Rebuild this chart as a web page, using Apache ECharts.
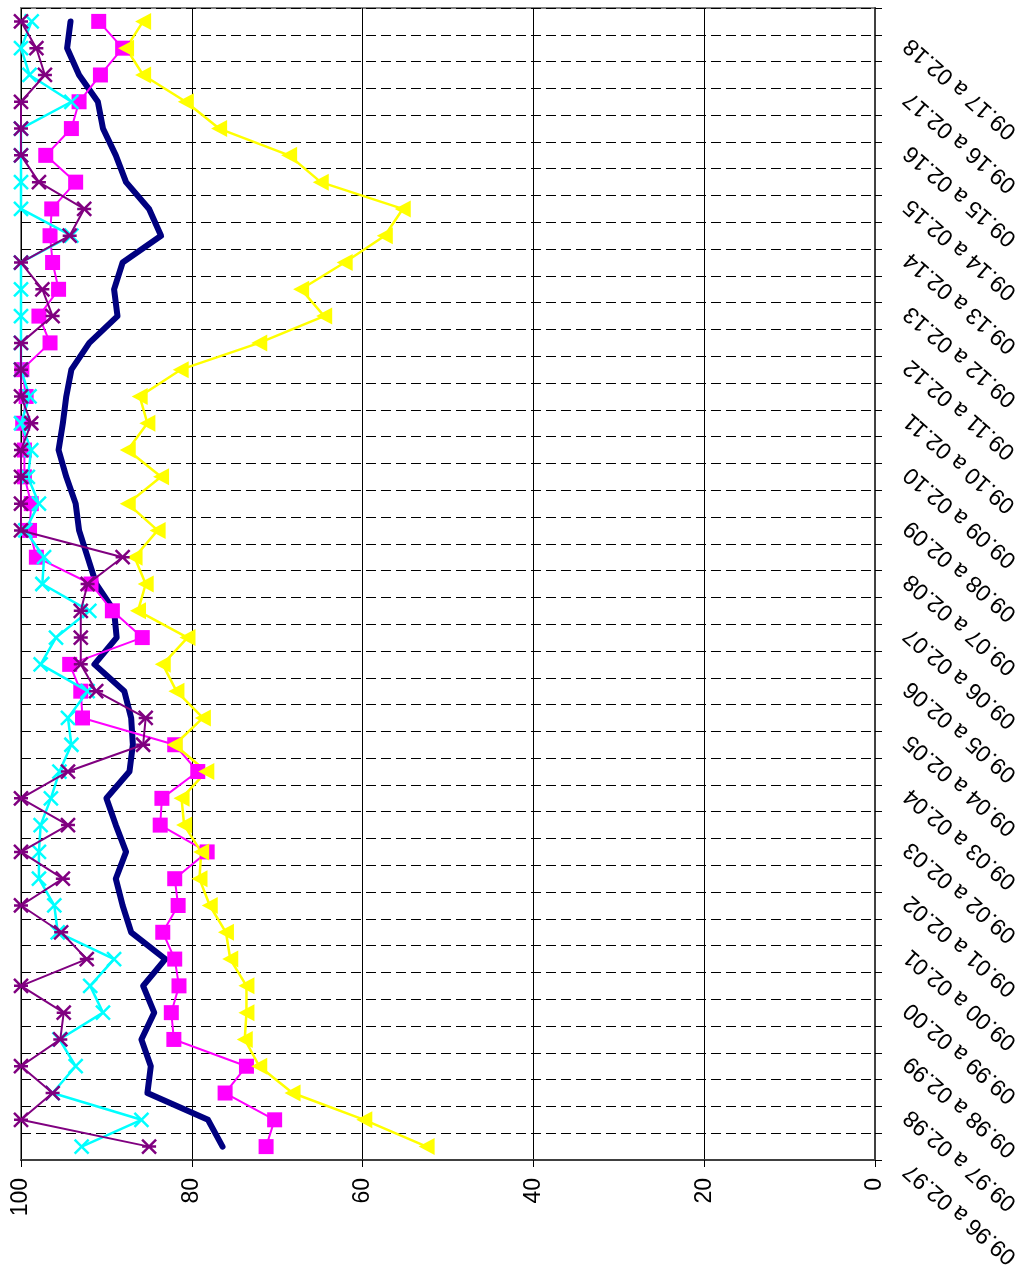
<!DOCTYPE html>
<html>
<head>
<meta charset="utf-8">
<script src="https://cdn.jsdelivr.net/npm/echarts@6/dist/echarts.min.js"></script>
<style>
html,body{margin:0;padding:0;background:#fff;}
#chart{width:1024px;height:1278px;}
</style>
</head>
<body>
<div id="chart"></div>
<script>
// Categories (first at the bottom, last at the top)
const categories = [
  "09.96 a 02.97","03.97 a 08.97","09.97 a 02.98","03.98 a 08.98","09.98 a 02.99",
  "03.99 a 08.99","09.99 a 02.00","03.00 a 08.00","09.00 a 02.01","03.01 a 08.01",
  "09.01 a 02.02","03.02 a 08.02","09.02 a 02.03","03.03 a 08.03","09.03 a 02.04",
  "03.04 a 08.04","09.04 a 02.05","03.05 a 08.05","09.05 a 02.06","03.06 a 08.06",
  "09.06 a 02.07","03.07 a 08.07","09.07 a 02.08","03.08 a 08.08","09.08 a 02.09",
  "03.09 a 08.09","09.09 a 02.10","03.10 a 08.10","09.10 a 02.11","03.11 a 08.11",
  "09.11 a 02.12","03.12 a 08.12","09.12 a 02.13","03.13 a 08.13","09.13 a 02.14",
  "03.14 a 08.14","09.14 a 02.15","03.15 a 08.15","09.15 a 02.16","03.16 a 08.16",
  "09.16 a 02.17","03.17 a 08.17","09.17 a 02.18"
];

const navySeries = [76.4, 78.1, 85.2, 84.8, 85.9, 84.4, 85.7, 83.1, 87.1, 88.1,
  88.9, 87.7, 88.9, 90.0, 87.3, 86.9, 87.1, 87.9, 91.4, 88.8,
  89.1, 91.2, 92.2, 93.2, 93.6, 94.7, 95.6, 95.1, 94.7, 94.1,
  92.0, 88.7, 89.1, 88.1, 83.6, 85.0, 87.7, 88.9, 90.4, 91.0,
  93.2, 94.6, 94.2];

const magentaSeries = [71.3, 70.3, 76.1, 73.6, 82.1, 82.4, 81.5, 82.0, 83.4, 81.6,
  82.0, 78.2, 83.7, 83.5, 79.3, 82.0, 92.8, 93.0, 94.3, 85.8,
  89.3, 91.8, 98.2, 99.0, 98.8, 99.6, 99.6, 99.8, 99.4, 99.9,
  96.6, 97.9, 95.6, 96.3, 96.6, 96.4, 93.6, 97.1, 94.1, 93.2,
  90.7, 88.1, 90.9];

const yellowSeries = [52.5, 59.8, 68.2, 72.1, 73.8, 73.6, 73.6, 75.5, 76.0, 77.9,
  79.1, 78.9, 80.9, 81.2, 78.3, 82.0, 78.7, 81.8, 83.4, 80.5,
  86.3, 85.4, 86.7, 84.0, 87.5, 83.6, 87.5, 85.2, 86.1, 81.3,
  72.1, 64.5, 67.2, 62.1, 57.4, 55.3, 64.9, 68.6, 76.8, 80.7,
  85.7, 87.7, 85.7];

const cyanSeries = [92.9, 85.9, 96.3, 93.6, 95.5, 90.4, 91.9, 89.1, 95.7, 96.1,
  97.9, 97.9, 97.7, 96.5, 95.5, 94.1, 94.5, 92.2, 97.7, 95.9,
  92.0, 97.5, 97.3, 99.5, 97.9, 99.2, 98.8, 100, 99.0, 100,
  100, 100, 100, 100, 94.1, 100, 100, 100, 100, 94.1,
  99.0, 100, 98.75];

const purpleSeries = [85.0, 100, 96.3, 100, 95.4, 95.0, 100, 92.3, 95.3, 100,
  95.1, 100, 94.5, 100, 94.5, 85.7, 85.4, 91.2, 93.0, 93.0,
  93.0, 92.2, 88.1, 100, 100, 100, 100, 98.8, 100, 100,
  100, 96.3, 97.5, 100, 94.3, 92.6, 97.9, 100, 100, 100,
  97.2, 98.2, 100];

const valueTicks = [0, 20, 40, 60, 80, 100];

const FONT = '"Liberation Sans", Arial, sans-serif';
const chart = echarts.init(document.getElementById('chart'), null, {renderer: 'canvas'});

const xMark = 'path://M0,0L10,10M10,0L0,10';
const starMark = 'path://M0,0L10,10M10,0L0,10M0,5L10,5';

chart.setOption({
  animation: false,
  backgroundColor: '#ffffff',
  grid: {
    left: 21, right: 149, top: 8, bottom: 118,
    show: true, borderColor: '#808080', borderWidth: 2, backgroundColor: '#ffffff'
  },
  xAxis: {
    type: 'value',
    position: 'bottom',
    inverse: true,
    min: valueTicks[0],
    max: valueTicks[valueTicks.length - 1],
    interval: 20,
    axisLine: {show: true, onZero: false, lineStyle: {color: '#404040', width: 2}},
    axisTick: {show: true, length: 7, lineStyle: {color: '#000', width: 1}},
    axisLabel: {
      rotate: 90, margin: 18, color: '#000', fontSize: 23, fontFamily: FONT
    },
    splitLine: {show: true, lineStyle: {color: '#000', width: 1, type: 'solid'}}
  },
  yAxis: {
    type: 'category',
    position: 'right',
    data: categories,
    boundaryGap: true,
    axisLine: {show: true, onZero: false, lineStyle: {color: '#404040', width: 2}},
    axisTick: {show: true, interval: 0, length: 7, lineStyle: {color: '#000', width: 1}},
    axisLabel: {
      interval: 1, rotate: 139, margin: 8, padding: [0, 32, 0, 0],
      color: '#000', fontSize: 23, fontFamily: FONT
    },
    splitLine: {show: true, interval: 0, lineStyle: {color: '#000', width: 1, type: [10, 5]}}
  },
  series: [
    {
      name: 'navy', type: 'line', data: navySeries, showSymbol: false, symbol: 'none',
      lineStyle: {color: '#000080', width: 6, cap: 'round', join: 'round'},
      itemStyle: {color: '#000080'}, z: 3
    },
    {
      name: 'magenta', type: 'line', data: magentaSeries,
      symbol: 'rect', symbolSize: 15,
      lineStyle: {color: '#FF00FF', width: 2},
      itemStyle: {color: '#FF00FF'}, z: 4
    },
    {
      name: 'yellow', type: 'line', data: yellowSeries,
      symbol: 'triangle', symbolSize: [17, 16], symbolRotate: 90,
      lineStyle: {color: '#FFFF00', width: 2.5},
      itemStyle: {color: '#FFFF00'}, z: 4
    },
    {
      name: 'cyan', type: 'line', data: cyanSeries,
      symbol: xMark, symbolSize: 14,
      lineStyle: {color: '#00FFFF', width: 2.5},
      itemStyle: {color: '#00FFFF', borderColor: '#00FFFF', borderWidth: 2.5}, z: 5
    },
    {
      name: 'purple', type: 'line', data: purpleSeries,
      symbol: starMark, symbolSize: 14,
      lineStyle: {color: '#800080', width: 2},
      itemStyle: {color: '#800080', borderColor: '#800080', borderWidth: 2.5}, z: 6
    }
  ]
});
</script>
</body>
</html>
